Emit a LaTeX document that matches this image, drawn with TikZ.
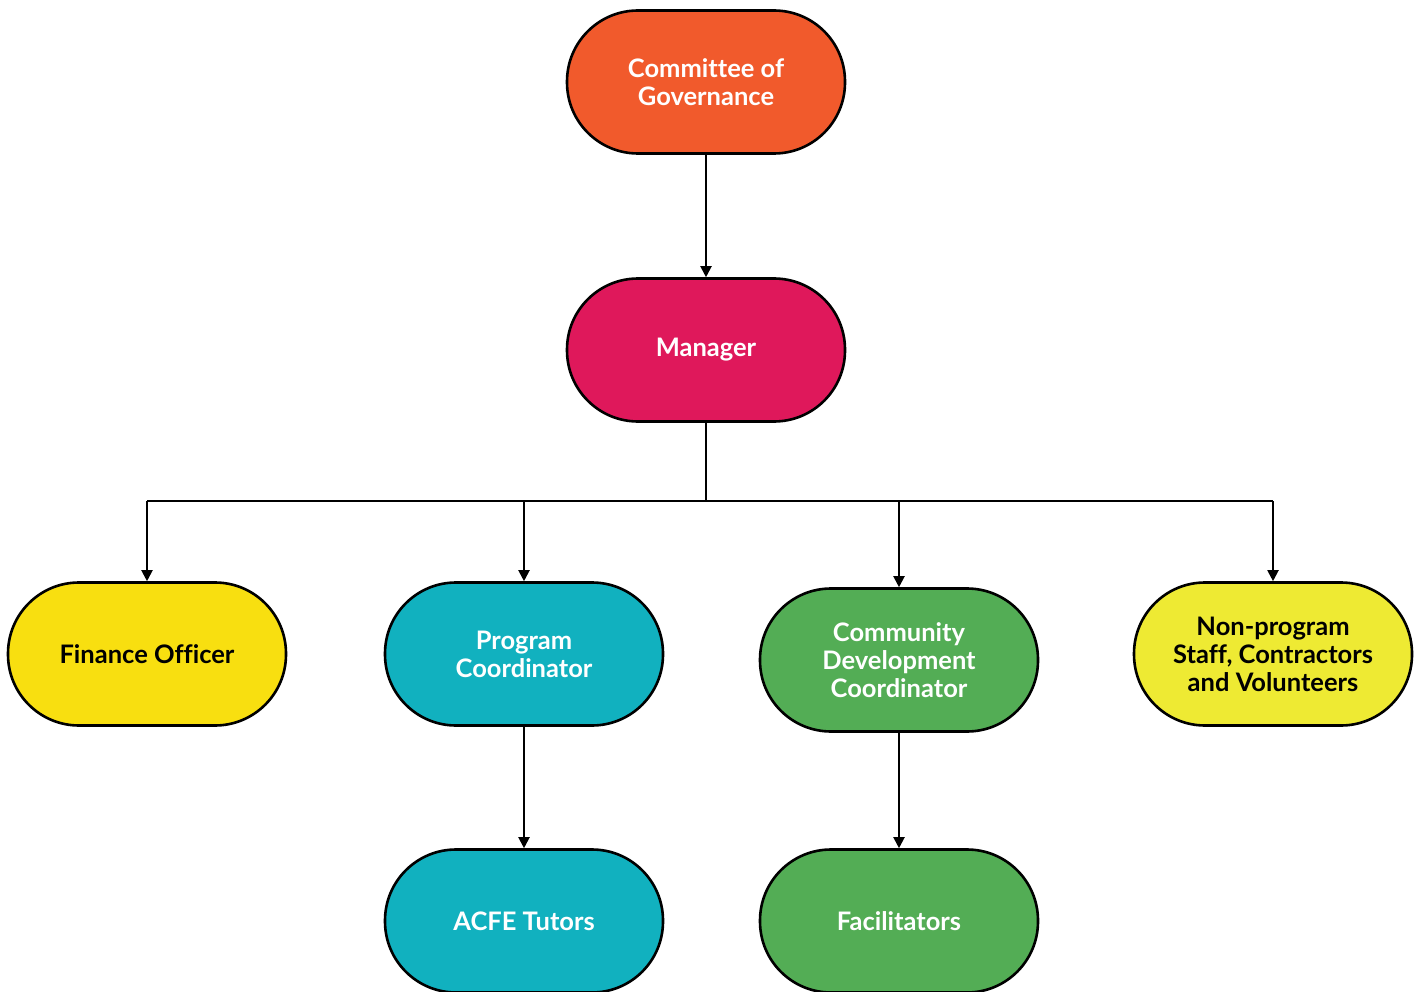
\documentclass[tikz,border=0pt]{standalone}
\usepackage{fontspec}
\setmainfont{Lato}[Ligatures=NoCommon]
\usetikzlibrary{arrows.meta}
\definecolor{cOrange}{HTML}{F15A2C}
\definecolor{cMagenta}{HTML}{DF185B}
\definecolor{cTeal}{HTML}{11B1BF}
\definecolor{cGreen}{HTML}{53AD55}
\definecolor{cYellow}{HTML}{F8DF10}
\definecolor{cLemon}{HTML}{EEEA33}
\begin{document}
\begin{tikzpicture}[x=1pt,y=-1pt,
  pill/.style={draw=black,line width=2.6pt,rounded corners=71pt,minimum width=278pt,minimum height=143pt,
    align=center,font=\fontsize{25.5}{28}\selectfont\bfseries,inner sep=0pt},
  wtext/.style={text=white},
  btext/.style={text=black},
  conn/.style={draw=black,line width=2pt,-{Triangle[length=11pt,width=11pt]}},
  plain/.style={draw=black,line width=2pt}]
\useasboundingbox (0,0) rectangle (1421,992);
\begin{scope}
\clip (0,0) rectangle (1421,992);
\node[pill,fill=cOrange,wtext] (cog) at (706,82) {Committee of\\Governance};
\node[pill,fill=cMagenta,wtext] (mgr) at (706,350) {Manager};
\node[pill,fill=cYellow,btext] (fin) at (147,654) {Finance Officer};
\node[pill,fill=cTeal,wtext] (pc) at (524,654) {Program\\Coordinator};
\node[pill,fill=cGreen,wtext] (cdc) at (899,660) {Community\\Development\\Coordinator};
\node[pill,fill=cLemon,btext] (np) at (1273,654) {Non-program\\Staff, Contractors\\and Volunteers};
\node[pill,fill=cTeal,wtext] (acfe) at (524,921) {ACFE Tutors};
\node[pill,fill=cGreen,wtext] (fac) at (899,921) {Facilitators};
\end{scope}
\coordinate (bus) at (706,501);
\draw[conn] (cog) -- (mgr);
\draw[plain] (mgr.south) -- (bus);
\draw[plain] (fin.north |- bus) -- (np.north |- bus);
\draw[conn] (fin.north |- bus) -- (fin.north);
\draw[conn] (pc.north |- bus) -- (pc.north);
\draw[conn] (cdc.north |- bus) -- (cdc.north);
\draw[conn] (np.north |- bus) -- (np.north);
\draw[conn] (pc) -- (acfe);
\draw[conn] (cdc) -- (fac);
\end{tikzpicture}
\end{document}
